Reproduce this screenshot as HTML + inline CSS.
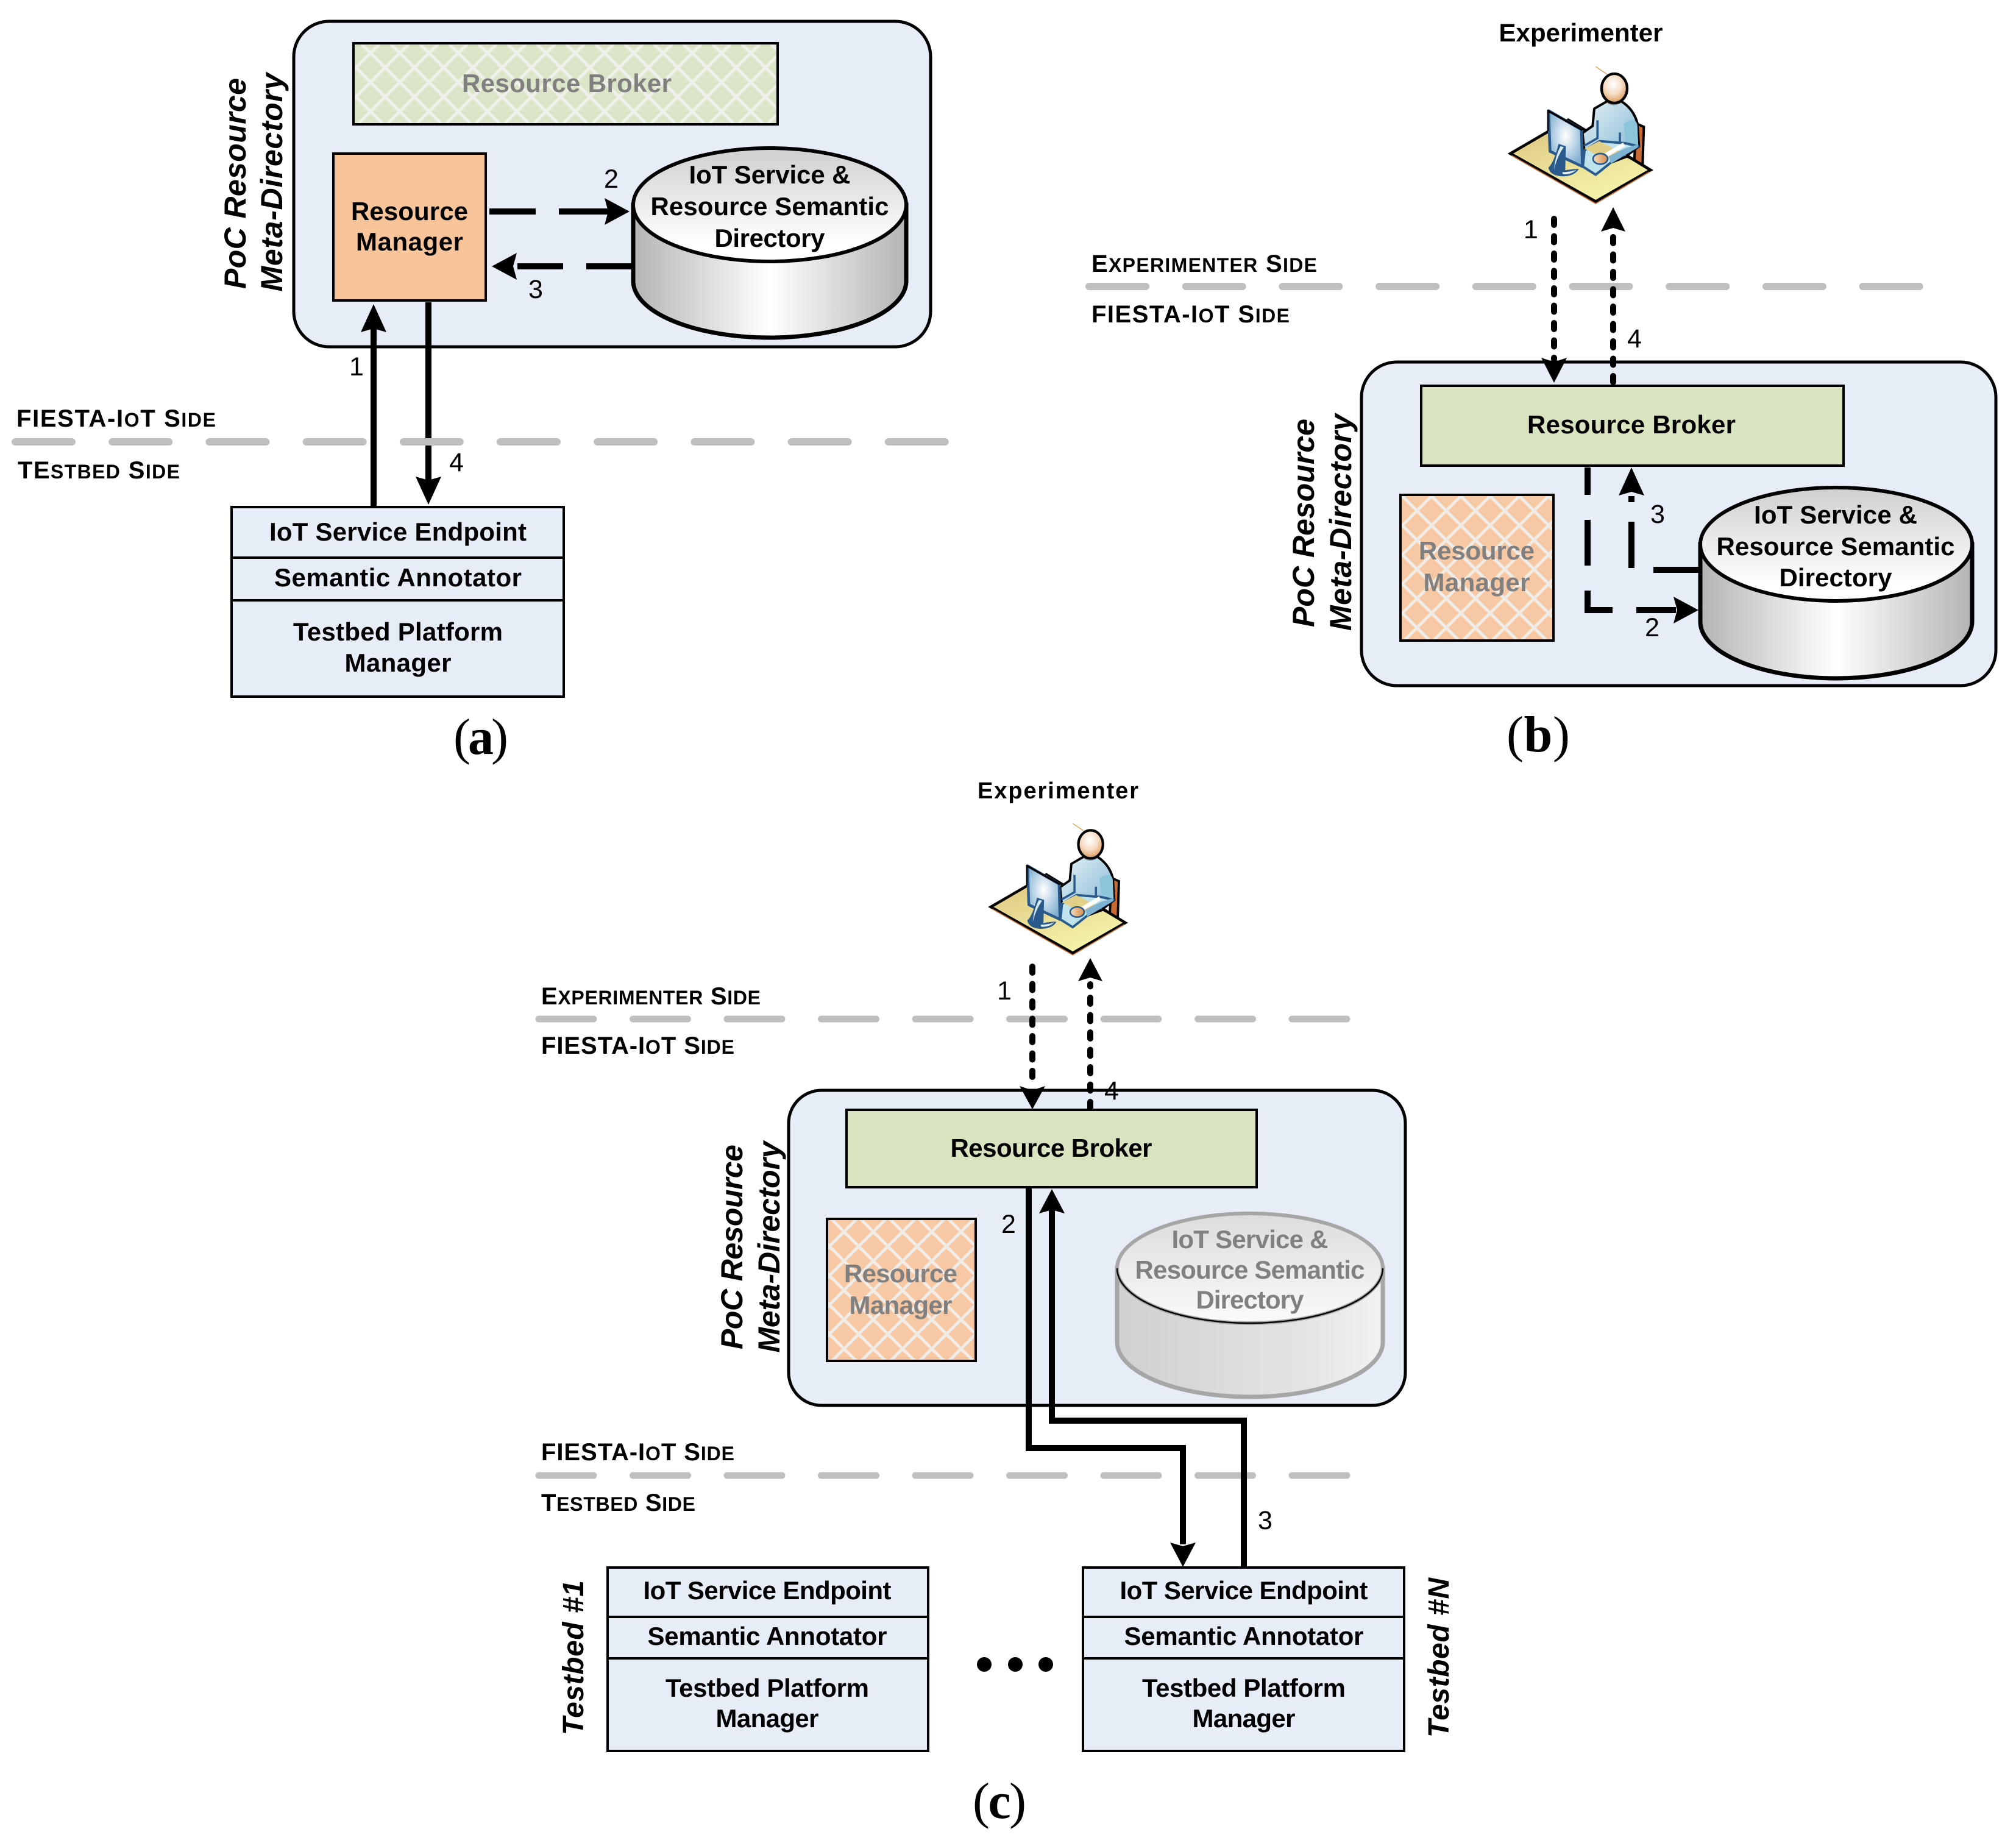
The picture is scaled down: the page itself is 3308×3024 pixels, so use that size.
<!DOCTYPE html>
<html><head><meta charset="utf-8">
<style>
html,body{margin:0;padding:0;background:#fff}
svg{display:block}
text{font-family:"Liberation Sans",sans-serif}
.b,.g,.s,.n{transform:translateY(-1px)}
.b{font-weight:bold;font-size:42px;fill:#000;text-anchor:middle}
.g{font-weight:bold;font-size:42px;fill:#808080;text-anchor:middle}
.s{font-weight:bold;font-size:40px;fill:#000}
.s tspan{font-size:32px}
.n{font-size:43px;fill:#000;text-anchor:middle}
.r{font-weight:bold;font-style:italic;font-size:50px;fill:#000;text-anchor:middle}
.l{font-family:"Liberation Serif",serif;font-size:84px;fill:#000;text-anchor:middle}
.l tspan{font-weight:bold}
.box{stroke:#000;stroke-width:4}
.cont{fill:#e6edf7;stroke:#000;stroke-width:5}
.grid{stroke:#bfbfbf;stroke-width:12;stroke-linecap:round;stroke-dasharray:93 66.2;fill:none}
.gridb{stroke:#bfbfbf;stroke-width:12;stroke-linecap:round;stroke-dasharray:93 65.7;fill:none}
.gridc{stroke:#bfbfbf;stroke-width:11;stroke-linecap:round;stroke-dasharray:90 64.5;fill:none}
.a{stroke:#000;stroke-width:10;fill:none}
.d{stroke:#000;stroke-width:10;fill:none;stroke-linecap:round;stroke-dasharray:10 18.5}
</style></head><body>
<svg width="3308" height="3024" viewBox="0 0 3308 3024" xmlns="http://www.w3.org/2000/svg">
<defs>
<pattern id="pg" patternUnits="userSpaceOnUse" x="610" y="88" width="48" height="48">
<rect width="48" height="48" fill="#dbe5c8"/><path d="M0 0L48 48M48 0L0 48" stroke="#eef0ea" stroke-width="5"/></pattern>
<pattern id="po1" patternUnits="userSpaceOnUse" x="2327" y="839" width="48" height="48">
<rect width="48" height="48" fill="#f6c9a4"/><path d="M0 0L48 48M48 0L0 48" stroke="#f2ece6" stroke-width="5"/></pattern>
<pattern id="po2" patternUnits="userSpaceOnUse" x="1387" y="2022" width="48" height="48">
<rect width="48" height="48" fill="#f6c9a4"/><path d="M0 0L48 48M48 0L0 48" stroke="#f2ece6" stroke-width="5"/></pattern>
<linearGradient id="side"><stop offset="0" stop-color="#b4b4b4"/><stop offset=".5" stop-color="#ffffff"/><stop offset="1" stop-color="#b4b4b4"/></linearGradient>
<linearGradient id="topg" x1="0" y1="0" x2="0" y2="1"><stop offset="0" stop-color="#cfcfcf"/><stop offset=".85" stop-color="#ffffff"/><stop offset="1" stop-color="#ffffff"/></linearGradient>
<linearGradient id="sidec"><stop offset="0" stop-color="#d0d0d0"/><stop offset=".7" stop-color="#e4e4e4"/><stop offset="1" stop-color="#f2f2f2"/></linearGradient>
<linearGradient id="topc" x1="0" y1="0" x2="0" y2="1"><stop offset="0" stop-color="#dcdcdc"/><stop offset="1" stop-color="#fafafa"/></linearGradient>
<linearGradient id="desk" x1="0" y1="0" x2="0.5" y2="1"><stop offset="0" stop-color="#dcc27c"/><stop offset="1" stop-color="#f4f2a8"/></linearGradient>
<radialGradient id="head" cx=".45" cy=".35" r=".7"><stop offset="0" stop-color="#ffffff"/><stop offset=".5" stop-color="#f6dcc4"/><stop offset="1" stop-color="#d88f48"/></radialGradient>
<linearGradient id="hand"><stop offset="0" stop-color="#f6dcc4"/><stop offset="1" stop-color="#d88f48"/></linearGradient>
<linearGradient id="body" x1="0" y1="0" x2="1" y2="1"><stop offset="0" stop-color="#e4f2f6"/><stop offset="1" stop-color="#7eb4d2"/></linearGradient>
<radialGradient id="mon" cx=".5" cy=".45" r=".6"><stop offset="0" stop-color="#ffffff"/><stop offset="1" stop-color="#7eaed0"/></radialGradient>
<g id="person">
<polygon points="735,368 772,384 766,572 725,550" fill="#c96a34" stroke="#000" stroke-width="12"/>
<polygon points="115,516 400,350 805,597 535,752" fill="url(#desk)" stroke="#000" stroke-width="14" stroke-linejoin="miter"/>
<path d="M122 526L535 762L800 606" fill="none" stroke="#c96a34" stroke-width="5"/>
<path d="M528 295L592 258L660 258Q720 295 740 365L748 480L690 525L725 548L690 530L610 560L550 570L480 510L470 415L520 380Z" fill="url(#body)" stroke="#000" stroke-width="12" stroke-linejoin="round"/>
<path d="M592 268Q625 290 660 268L655 262L595 262Z" fill="#72a8cc"/>
<path d="M672 370Q730 330 740 375L745 480L690 515Z" fill="#8cc4da"/>
<path d="M544 352L544 440L478 478M654 412L654 460" fill="none" stroke="#2a5a8c" stroke-width="11"/>
<polygon points="480,500 555,455 680,465 745,480 610,560 535,620 472,580" fill="#bfe3ec" stroke="#2a5a8c" stroke-width="12" stroke-linejoin="round"/>
<polygon points="480,492 552,455 660,510 590,548" fill="#e2cf88"/>
<polygon points="580,515 670,462 680,480 595,530" fill="#ffffff"/>
<polygon points="600,530 680,490 745,470 742,485 610,565" fill="#7eb4d2" stroke="none"/>
<ellipse cx="558" cy="542" rx="36" ry="26" fill="url(#hand)" stroke="#2a5a8c" stroke-width="8"/>
<ellipse cx="626" cy="262" rx="34" ry="12" fill="#d9533a"/>
<ellipse cx="627" cy="195" rx="63" ry="72" fill="url(#head)" stroke="#000" stroke-width="13"/>
<path d="M535 88L590 125" stroke="#e09a50" stroke-width="4"/>
<polygon points="303,305 465,398 470,580 310,505" fill="url(#mon)" stroke="#2a5a8c" stroke-width="14" stroke-linejoin="round"/>
<path d="M300 305L470 400" stroke="#000" stroke-width="10"/><path d="M300 300L300 405" stroke="#000" stroke-width="8"/>
<path d="M352 468L388 480L385 598Q440 590 452 592Q430 628 370 628Q310 625 302 585Q330 560 352 468Z" fill="#2a5a8c"/>
<path d="M362 480L378 484Q345 530 330 595Q335 530 362 480Z" fill="#d8ecf2"/>
<path d="M370 608Q420 605 440 595Q420 618 375 618Z" fill="#e8f2f6"/>
</g>
</defs>
<rect width="3308" height="3024" fill="#fff"/>
<g transform="translate(-2,-1)">
<!-- PANEL A -->
<rect class="cont" x="484" y="36" width="1045" height="534" rx="58"/>
<rect class="box" x="582" y="72" width="696" height="133" fill="url(#pg)"/>
<text class="g" x="932" y="153" textLength="344">Resource Broker</text>
<rect class="box" x="549" y="253" width="250" height="241" fill="#f8c49a"/>
<text class="b" x="674" y="363" textLength="192">Resource</text>
<text class="b" x="674" y="413" textLength="176">Manager</text>
<path d="M1041 337V462A224 93 0 0 0 1489 462V337Z" fill="url(#side)" stroke="#000" stroke-width="7"/>
<ellipse cx="1265" cy="337" rx="224" ry="93" fill="url(#topg)" stroke="#000" stroke-width="6"/>
<text class="b" x="1265" y="303" textLength="265">IoT Service &amp;</text>
<text class="b" x="1265" y="355" textLength="391">Resource Semantic</text>
<text class="b" x="1265" y="407" textLength="181">Directory</text>
<path class="a" d="M805 348H881M919 348H1000"/>
<polygon points="1035,348 994,326 1000,348 994,370" fill="#000"/>
<path class="a" d="M1041 438H964M926 438H851"/>
<polygon points="809,438 850,416 844,438 850,460" fill="#000"/>
<path class="a" d="M615 832V540"/>
<polygon points="615,500 594,546 615,540 636,546" fill="#000"/>
<path class="a" d="M705 497V790"/>
<polygon points="705,829 684,783 705,789 726,783" fill="#000"/>
<text class="n" x="587" y="618">1</text>
<text class="n" x="1005" y="310">2</text>
<text class="n" x="881" y="491">3</text>
<text class="n" x="751" y="775">4</text>
<line class="grid" x1="27" y1="726" x2="1560" y2="726"/>
<text class="s" x="29" y="702" textLength="327">FIESTA-I<tspan>O</tspan>T S<tspan>IDE</tspan></text>
<text class="s" x="31" y="787" textLength="266">TE<tspan>STBED</tspan> S<tspan>IDE</tspan></text>
<rect class="box" x="382" y="833" width="545" height="311" fill="#e6edf7"/>
<path class="box" d="M382 916H927M382 986H927"/>
<text class="b" x="655" y="889" textLength="422">IoT Service Endpoint</text>
<text class="b" x="655" y="964" textLength="406">Semantic Annotator</text>
<text class="b" x="655" y="1053" textLength="344">Testbed Platform</text>
<text class="b" x="655" y="1104" textLength="175">Manager</text>
<text class="l" x="791" y="1238" textLength="90">(<tspan>a</tspan>)</text>
<text class="r" transform="translate(405,302) rotate(-90)" textLength="346">PoC Resource</text>
<text class="r" transform="translate(465,300) rotate(-90)" textLength="359">Meta-Directory</text>

<!-- PANEL B -->
<text class="b" x="2596" y="70" textLength="269">Experimenter</text>
<use href="#person" transform="translate(2442,81) scale(0.3333)"/>
<line class="gridb" x1="1789" y1="471" x2="3158" y2="471"/>
<text class="s" x="1793" y="448" textLength="370">E<tspan>XPERIMENTER</tspan> S<tspan>IDE</tspan></text>
<text class="s" x="1793" y="531" textLength="325">FIESTA-I<tspan>O</tspan>T S<tspan>IDE</tspan></text>
<rect class="cont" x="2236" y="595" width="1041" height="531" rx="58"/>
<rect class="box" x="2334" y="634" width="693" height="131" fill="#d8e3bf"/>
<text class="b" x="2679" y="713" textLength="342">Resource Broker</text>
<rect class="box" x="2300" y="813" width="251" height="239" fill="url(#po1)"/>
<text class="g" x="2425" y="920" textLength="190">Resource</text>
<text class="g" x="2425" y="972" textLength="175">Manager</text>
<path d="M2792 894V1021A223 93 0 0 0 3238 1021V894Z" fill="url(#side)" stroke="#000" stroke-width="7"/>
<ellipse cx="3015" cy="894" rx="223" ry="93" fill="url(#topg)" stroke="#000" stroke-width="6"/>
<text class="b" x="3014" y="861" textLength="268">IoT Service &amp;</text>
<text class="b" x="3014" y="913" textLength="391">Resource Semantic</text>
<text class="b" x="3014" y="964" textLength="185">Directory</text>
<line class="d" x1="2552" y1="360" x2="2552" y2="590"/>
<polygon points="2552,629 2531,588 2552,595 2573,588" fill="#000"/>
<line class="d" x1="2649" y1="628" x2="2649" y2="387"/>
<polygon points="2649,341 2629,381 2649,375 2669,381" fill="#000"/>
<text class="n" x="2514" y="393">1</text>
<text class="n" x="2684" y="572">4</text>
<text class="n" x="2722" y="860">3</text>
<text class="n" x="2713" y="1046">2</text>
<path class="a" d="M2607 768V813M2607 854V929M2607 970V1002H2648M2687 1002H2752"/>
<polygon points="2789,1002 2748,980 2754,1002 2748,1024" fill="#000"/>
<path class="a" d="M2792 936H2715M2679 933V857M2679 825V815"/>
<polygon points="2679,768 2658,814 2679,808 2700,814" fill="#000"/>
<text class="l" x="2526" y="1234" textLength="104">(<tspan>b</tspan>)</text>
<text class="r" transform="translate(2158,859) rotate(-90)" textLength="342">PoC Resource</text>
<text class="r" transform="translate(2219,858) rotate(-90)" textLength="356">Meta-Directory</text>

<!-- PANEL C -->
<text class="b" x="1738" y="1312" style="font-size:38px" textLength="264">Experimenter</text>
<use href="#person" transform="translate(1591,1324) scale(0.32)"/>
<line class="gridc" x1="886" y1="1673" x2="2216" y2="1673"/>
<line class="gridc" x1="886" y1="2422" x2="2216" y2="2422"/>
<text class="s" x="890" y="1650" textLength="360">E<tspan>XPERIMENTER</tspan> S<tspan>IDE</tspan></text>
<text class="s" x="890" y="1731" textLength="317">FIESTA-I<tspan>O</tspan>T S<tspan>IDE</tspan></text>
<text class="s" x="890" y="2398" textLength="317">FIESTA-I<tspan>O</tspan>T S<tspan>IDE</tspan></text>
<text class="s" x="890" y="2481" textLength="253">T<tspan>ESTBED</tspan> S<tspan>IDE</tspan></text>
<rect class="cont" x="1296" y="1790" width="1012" height="517" rx="54"/>
<rect class="box" x="1391" y="1822" width="673" height="127" fill="#d8e3bf"/>
<text class="b" x="1727" y="1900" textLength="331">Resource Broker</text>
<rect class="box" x="1359" y="2001" width="244" height="233" fill="url(#po2)"/>
<text class="g" x="1480" y="2106" textLength="186">Resource</text>
<text class="g" x="1480" y="2158" textLength="169">Manager</text>
<path d="M1835 2082V2203A218 90 0 0 0 2271 2203V2082Z" fill="url(#sidec)" stroke="#a6a6a6" stroke-width="7"/>
<ellipse cx="2053" cy="2082" rx="218" ry="90" fill="url(#topc)" stroke="#a6a6a6" stroke-width="6"/>
<path d="M1835 2082A218 90 0 0 0 2271 2082" fill="none" stroke="#000" stroke-width="2.5"/>
<text class="g" x="2053" y="2050" textLength="257">IoT Service &amp;</text>
<text class="g" x="2053" y="2100" textLength="377">Resource Semantic</text>
<text class="g" x="2053" y="2149" textLength="177">Directory</text>
<line class="d" x1="1696" y1="1587" x2="1696" y2="1780"/>
<polygon points="1696,1821 1675,1783 1696,1790 1717,1783" fill="#000"/>
<line class="d" x1="1791" y1="1819" x2="1791" y2="1616"/>
<polygon points="1791,1573 1771,1611 1791,1605 1811,1611" fill="#000"/>
<text class="n" x="1650" y="1642">1</text>
<text class="n" x="1826" y="1806">4</text>
<text class="n" x="1657" y="2025">2</text>
<text class="n" x="2078" y="2511">3</text>
<path class="a" d="M1690 1950V2377H1943V2535"/>
<polygon points="1943,2572 1922,2532 1943,2538 1964,2532" fill="#000"/>
<path class="a" d="M2043 2574V2332H1728V1985"/>
<polygon points="1728,1952 1707,1992 1728,1986 1749,1992" fill="#000"/>
<rect class="box" x="999" y="2573" width="526" height="301" fill="#e6edf7"/>
<path class="box" d="M999 2654H1525M999 2722H1525"/>
<text class="b" x="1261" y="2626" textLength="407">IoT Service Endpoint</text>
<text class="b" x="1261" y="2701" textLength="393">Semantic Annotator</text>
<text class="b" x="1261" y="2786" textLength="334">Testbed Platform</text>
<text class="b" x="1261" y="2836" textLength="169">Manager</text>
<rect class="box" x="1779" y="2573" width="527" height="301" fill="#e6edf7"/>
<path class="box" d="M1779 2654H2306M1779 2722H2306"/>
<text class="b" x="2043" y="2626" textLength="407">IoT Service Endpoint</text>
<text class="b" x="2043" y="2701" textLength="393">Semantic Annotator</text>
<text class="b" x="2043" y="2786" textLength="334">Testbed Platform</text>
<text class="b" x="2043" y="2836" textLength="169">Manager</text>
<circle cx="1617" cy="2732" r="12"/><circle cx="1668" cy="2732" r="12"/><circle cx="1718" cy="2732" r="12"/>
<text class="r" transform="translate(959,2721) rotate(-90)" textLength="254" style="font-size:48px">Testbed #1</text>
<text class="r" transform="translate(2379,2721) rotate(-90)" textLength="262" style="font-size:48px">Testbed #N</text>
<text class="r" transform="translate(1220,2047) rotate(-90)" textLength="336">PoC Resource</text>
<text class="r" transform="translate(1281,2047) rotate(-90)" textLength="347">Meta-Directory</text>
<text class="l" x="1642" y="2984" textLength="88">(<tspan>c</tspan>)</text>
</g>
</svg>
</body></html>
